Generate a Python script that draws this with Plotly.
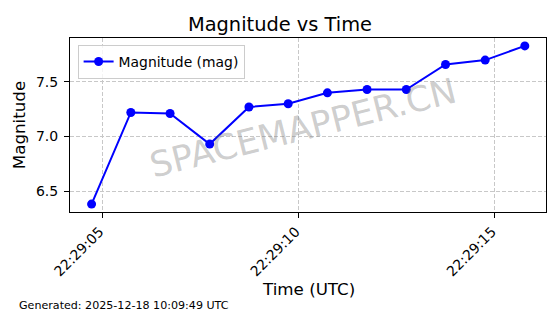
import plotly.graph_objects as go

times = ["2025-12-18 22:29:04.72", "2025-12-18 22:29:05.72", "2025-12-18 22:29:06.72",
         "2025-12-18 22:29:07.73", "2025-12-18 22:29:08.73", "2025-12-18 22:29:09.73",
         "2025-12-18 22:29:10.73", "2025-12-18 22:29:11.74", "2025-12-18 22:29:12.74",
         "2025-12-18 22:29:13.74", "2025-12-18 22:29:14.75", "2025-12-18 22:29:15.76"]
magnitude = [6.38, 7.22, 7.21, 6.93, 7.27, 7.30, 7.40, 7.43, 7.43, 7.66, 7.70, 7.83]
x_range = ["2025-12-18 22:29:04.17", "2025-12-18 22:29:16.30"]
y_range = [6.3075, 7.9025]
y_ticks = [6.5, 7.0, 7.5]

FONT = "DejaVu Sans"

fig = go.Figure()
fig.add_trace(go.Scatter(
    x=times, y=magnitude, mode="lines+markers", name="Magnitude (mag)",
    line=dict(color="#0000ff", width=2),
    marker=dict(color="#0000ff", size=9),
))

axis_common = dict(
    showline=True, linecolor="black", linewidth=1.1, mirror=True,
    ticks="outside", ticklen=5, tickwidth=1.1, tickcolor="black",
    showgrid=True, gridcolor="#c8c8c8", griddash="4px,2px", gridwidth=0.8,
    zeroline=False, automargin=False,
    tickfont=dict(family=FONT, size=14, color="black"),
)

fig.update_layout(
    width=560, height=314,
    margin=dict(l=70, r=14, t=38, b=102),
    paper_bgcolor="white", plot_bgcolor="white",
    font=dict(family=FONT, color="black"),
    title=dict(text="Magnitude vs Time", x=0.5, xanchor="center", y=0.922, yanchor="middle",
               font=dict(family=FONT, size=19.4, color="black")),
    xaxis=dict(**axis_common, type="date", range=x_range, tickformat="%H:%M:%S",
               dtick=5000, tickangle=-45, ticklabelstandoff=0, ticklabelshift=-3),
    yaxis=dict(**axis_common, range=y_range, tickvals=y_ticks, tickformat=".1f",
               ticklabelstandoff=3,
               title=dict(text="Magnitude", font=dict(family=FONT, size=16.7), standoff=6)),
    legend=dict(x=0.016, y=0.96, xanchor="left", yanchor="top",
                bgcolor="rgba(255,255,255,0.8)", bordercolor="#cccccc", borderwidth=1,
                font=dict(family=FONT, size=13.9)),
    showlegend=True,
)

fig.add_annotation(
    text="Time (UTC)", xref="paper", yref="paper", x=0.5, y=(212 - 289) / 174,
    xanchor="center", yanchor="middle", showarrow=False,
    font=dict(family=FONT, size=16.7, color="black"),
)
fig.add_annotation(
    text="SPACEMAPPER.CN", xref="paper", yref="paper", x=0.49, y=0.48,
    showarrow=False, textangle=-14,
    font=dict(family=FONT, size=35, color="rgba(128,128,128,0.4)"),
)
fig.add_annotation(
    text="Generated: 2025-12-18 10:09:49 UTC", xref="paper", yref="paper",
    x=(17 - 70) / 476, y=(212 - 305) / 174, xanchor="left", yanchor="middle",
    showarrow=False, font=dict(family=FONT, size=11.1, color="black"),
)

fig.write_html("out.html")
